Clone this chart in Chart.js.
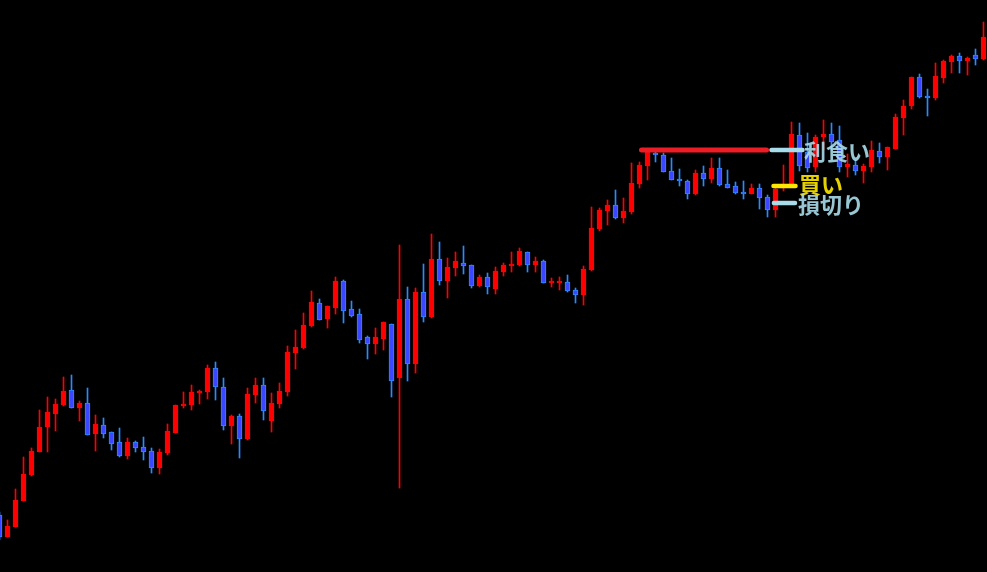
<!DOCTYPE html>
<html>
<head>
<meta charset="utf-8">
<script src="https://cdn.jsdelivr.net/npm/chart.js@4"></script>
<style>
  html, body { margin: 0; padding: 0; background: #000; overflow: hidden; }
  #wrap { width: 987px; height: 572px; background: #000; }
</style>
</head>
<body>
<div id="wrap"><canvas id="c" width="987" height="572"></canvas></div>
<script>
// Candle values (arbitrary price units)
const opens = [57,35,45,71,97,120,145,158,167,182,164,169,138,147,140,130,116,130,125,121,104,119,139,166,167,179,180,204,185,146,156,133,177,187,151,168,180,219,224,246,269,253,264,291,263,258,235,228,233,248,194,273,208,280,255,313,291,304,309,307,286,295,283,300,306,307,320,307,311,289,289,290,282,277,302,343,361,367,354,360,388,406,419,417,401,393,391,378,399,393,404,388,386,380,378,384,375,362,384,385,437,420,405,435,438,432,405,407,401,405,421,415,423,454,466,495,476,474,494,510,516,511,517,513];
const highs = [60,52,83,115,124,162,175,173,195,197,171,184,157,154,140,144,134,131,135,124,123,148,167,180,187,182,207,210,194,157,158,184,194,194,179,189,226,242,259,281,273,266,295,292,271,263,236,244,250,248,327,285,284,308,338,330,314,320,326,307,297,299,305,309,320,324,320,315,312,294,295,297,284,306,365,364,372,382,374,409,410,422,422,419,414,403,392,402,406,414,414,402,390,391,388,388,377,387,407,450,449,439,437,452,449,446,418,412,408,431,429,425,458,472,495,498,483,509,512,517,519,515,523,550];
const lows = [32,35,45,71,96,120,120,141,166,164,151,137,121,134,122,115,113,120,112,99,98,117,139,164,162,168,173,172,142,128,114,132,169,152,140,164,176,203,223,245,252,244,258,249,255,229,213,218,222,175,84,191,199,250,254,287,274,296,298,284,285,278,278,296,300,306,300,300,289,285,282,280,269,267,301,341,347,353,349,358,384,392,410,400,392,386,373,377,386,389,386,384,378,373,378,363,355,355,381,385,401,400,400,422,422,400,395,397,389,400,409,402,423,437,463,474,456,472,489,499,499,497,507,512];
const closes = [35,46,72,98,121,145,160,168,181,164,169,137,148,138,128,116,130,124,120,104,120,141,167,168,180,181,204,185,146,156,133,178,187,161,169,181,220,225,247,270,252,266,291,261,256,232,228,235,250,191,273,208,280,255,313,291,305,311,306,286,295,285,301,307,308,321,307,311,289,291,291,281,277,303,344,362,367,354,361,389,407,420,417,400,392,391,378,399,393,404,387,384,379,378,384,374,362,383,386,438,406,404,435,438,430,405,408,401,406,422,415,425,455,466,495,475,474,496,511,516,511,514,513,535];
const candleIndex = opens.map((_, i) => i);

// Trade levels drawn on the chart
const levelLabels = ['利食い', '買い', '損切り'];
const levelValues = [422, 386, 369];
const levelStart = [96.5, 96.75, 96.8];   // in candle-index units
const levelEnd = [100.375, 99.5, 99.44];
const labelStart = [100.55, 99.95, 99.8];
const labelValues = [420, 387, 367];
// red range line at the take-profit level
const rangeStart = 80.25, rangeEnd = 95.875, rangeValue = 422;

const UP = '#ff0000';
const DOWN_FILL = 'rgb(58,72,255)';
const DOWN_EDGE = 'rgb(40,140,255)';
const isUp = i => closes[i] > opens[i];

const wickData = candleIndex.map(i => ({ x: i, y: [lows[i], highs[i]] }));
const bodyData = candleIndex.map(i => ({ x: i, y: [opens[i], closes[i]] }));

const levelColors = ['#a8dcea', '#ffe800', '#a8dcea'];

const overlayPlugin = {
  id: 'levelOverlay',
  afterDatasetsDraw(chart) {
    const { ctx, scales: { x, y } } = chart;
    ctx.save();
    ctx.lineCap = 'round';
    ctx.lineWidth = 5;
    ctx.strokeStyle = '#ee1d25';
    ctx.beginPath();
    ctx.moveTo(x.getPixelForValue(rangeStart), y.getPixelForValue(rangeValue));
    ctx.lineTo(x.getPixelForValue(rangeEnd), y.getPixelForValue(rangeValue));
    ctx.stroke();
    levelValues.forEach((v, k) => {
      ctx.strokeStyle = levelColors[k];
      ctx.lineWidth = 4.5;
      ctx.beginPath();
      ctx.moveTo(x.getPixelForValue(levelStart[k]), y.getPixelForValue(v));
      ctx.lineTo(x.getPixelForValue(levelEnd[k]), y.getPixelForValue(v));
      ctx.stroke();
    });
    ctx.font = 'bold 22px "Noto Sans CJK JP", sans-serif';
    ctx.textBaseline = 'middle';
    ctx.textAlign = 'left';
    ctx.globalAlpha = 0.9;
    levelLabels.forEach((t, k) => {
      ctx.fillStyle = levelColors[k];
      ctx.fillText(t, x.getPixelForValue(labelStart[k]), y.getPixelForValue(labelValues[k]));
    });
    ctx.restore();
  }
};

new Chart(document.getElementById('c'), {
  type: 'bar',
  data: {
    datasets: [
      {
        label: 'wick',
        data: wickData,
        backgroundColor: candleIndex.map(i => isUp(i) ? UP : DOWN_EDGE),
        barThickness: 1,
        borderWidth: 0,
        grouped: false,
        order: 2
      },
      {
        label: 'body',
        data: bodyData,
        backgroundColor: candleIndex.map(i => isUp(i) ? UP : DOWN_FILL),
        borderColor: candleIndex.map(i => isUp(i) ? UP : DOWN_EDGE),
        borderWidth: 1,
        borderSkipped: false,
        barThickness: 5,
        grouped: false,
        order: 1
      }
    ]
  },
  options: {
    responsive: false,
    animation: false,
    devicePixelRatio: 1,
    layout: { padding: 0 },
    plugins: { legend: { display: false }, tooltip: { enabled: false } },
    scales: {
      x: { type: 'linear', offset: false, bounds: 'data', min: 0.0625, max: 123.4375, display: false, grid: { offset: false } },
      y: { min: 0, max: 572, display: false }
    }
  },
  plugins: [overlayPlugin]
});
</script>
</body>
</html>
